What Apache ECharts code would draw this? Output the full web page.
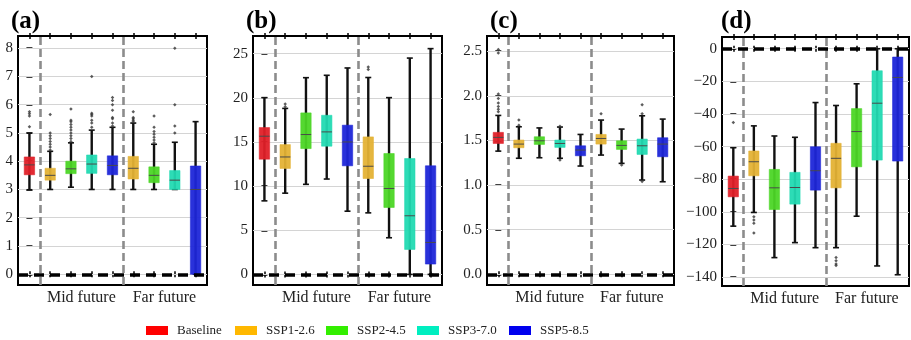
<!DOCTYPE html>
<html lang="en">
<head>
<meta charset="UTF-8">
<title>Boxplots by scenario</title>
<script src="https://cdn.jsdelivr.net/npm/echarts@6/dist/echarts.min.js"></script>
<style>html,body{margin:0;padding:0;background:#fff}</style>
</head>
<body>
<div id="main" style="width:911px;height:340px;"></div>
<script>
    // scenario names and box slots (0 = baseline, 1-4 mid future, 5-8 far future)
    var scenarios = ['Baseline', 'SSP1-2.6', 'SSP2-4.5', 'SSP3-7.0', 'SSP5-8.5'];
    var slotScenario = [0, 1, 2, 3, 4, 1, 2, 3, 4];
    var slotTicks = [0, 1, 2, 3, 4, 5, 6, 7, 8];
    var periodLabels = ['Mid future', 'Far future'];
    var periodCenters = [2.5, 6.5];
    var periodBreaks = [0.5, 4.5];
    var panelTitles = ['(a)', '(b)', '(c)', '(d)'];

    // [low, q1, median, q3, high] per slot
    var boxesA = [
        [2.99, 3.52, 3.87, 4.15, 4.99],
        [3.0, 3.33, 3.5, 3.75, 4.35],
        [3.08, 3.56, 3.73, 4.0, 4.65],
        [3.0, 3.57, 3.9, 4.22, 5.1],
        [3.0, 3.52, 3.85, 4.19, 5.2],
        [3.0, 3.37, 3.75, 4.17, 5.35],
        [3.0, 3.24, 3.5, 3.8, 4.6],
        [3.0, 3.0, 3.33, 3.67, 4.67],
        [0, 0, 3.0, 3.83, 5.4]
    ];
    var outliersA = [
        [0, 5.22], [0, 5.6], [0, 5.68], [0, 5.75],
        [1, 4.4], [1, 4.5], [1, 4.6], [1, 4.7], [1, 4.8], [1, 4.9], [1, 5.0], [1, 5.65],
        [2, 4.7], [2, 4.8], [2, 4.9], [2, 5.0], [2, 5.1], [2, 5.2], [2, 5.3], [2, 5.4], [2, 5.45], [2, 5.85],
        [3, 5.2], [3, 5.35], [3, 5.45], [3, 5.6], [3, 5.65], [3, 5.7], [3, 7.0],
        [4, 5.25], [4, 5.35], [4, 5.5], [4, 5.55], [4, 5.8], [4, 6.0], [4, 6.15], [4, 6.25],
        [5, 5.4], [5, 5.45], [5, 5.5], [5, 5.55], [5, 5.75],
        [6, 4.65], [6, 4.75], [6, 4.85], [6, 4.95], [6, 5.05], [6, 5.2], [6, 5.6],
        [7, 5.0], [7, 5.25], [7, 6.0], [7, 8.0]
    ];
    var boxesB = [
        [8.33, 13.05, 15.65, 16.63, 20.02],
        [9.2, 12.0, 13.3, 14.7, 18.8],
        [10.2, 14.25, 15.84, 18.29, 22.28],
        [10.8, 14.52, 16.14, 18.02, 22.55],
        [7.16, 12.3, 15.0, 16.9, 23.38],
        [6.97, 10.86, 12.25, 15.57, 22.3],
        [4.15, 7.58, 9.73, 13.69, 20.02],
        [0, 2.83, 6.64, 13.12, 24.5],
        [0, 1.17, 3.62, 12.3, 25.57]
    ];
    var outliersB = [
        [1, 19.0], [1, 19.3],
        [5, 23.2], [5, 23.5]
    ];
    var boxesC = [
        [1.38, 1.466, 1.534, 1.59, 1.78],
        [1.30, 1.418, 1.459, 1.504, 1.653],
        [1.306, 1.455, 1.496, 1.541, 1.64],
        [1.30, 1.422, 1.466, 1.504, 1.65],
        [1.213, 1.328, 1.392, 1.44, 1.567],
        [1.336, 1.459, 1.522, 1.567, 1.728],
        [1.243, 1.399, 1.444, 1.496, 1.627],
        [1.056, 1.343, 1.44, 1.515, 1.776],
        [1.037, 1.317, 1.459, 1.53, 1.739]
    ];
    var outliersC = [
        [0, 1.82], [0, 1.85], [0, 1.88], [0, 1.92], [0, 1.97], [0, 2.02], [0, 2.48], [0, 2.52],
        [1, 1.67], [1, 1.73],
        [3, 1.66], [3, 1.28],
        [5, 1.8],
        [6, 1.225],
        [7, 1.8], [7, 1.9], [7, 1.04]
    ];
    var boxesD = [
        [-108.8, -90.8, -85.7, -78.1, -60.7],
        [-100.4, -77.9, -69.3, -62.7, -47.3],
        [-128.1, -98.6, -85.3, -74, -53.5],
        [-118.9, -95.3, -85.1, -75.8, -54.3],
        [-122, -86.7, -74.8, -60.1, -33],
        [-122, -85.3, -67.2, -58, -34.8],
        [-102.7, -72.4, -50.8, -36.7, -21.5],
        [-133.2, -68.3, -33.4, -13.5, 0],
        [-138.6, -68.9, -17.6, -5.1, 0]
    ];
    var outliersD = [
        [0, -45.3],
        [1, -103], [1, -105], [1, -107], [1, -113],
        [5, -128], [5, -130], [5, -132], [5, -133]
    ];

    var yTicksA = [0, 1, 2, 3, 4, 5, 6, 7, 8];
    var yTicksB = [0, 5, 10, 15, 20, 25];
    var yTicksC = [0, 0.5, 1.0, 1.5, 2.0, 2.5];
    var yTicksD = [-140, -120, -100, -80, -60, -40, -20, 0];

    var boxColors = ['#e02028', '#e4b235', '#4cd626', '#22dab2', '#1e26d8'];
    var legendColors = ['#ff0000', '#ffb800', '#33ee00', '#00eec0', '#0000ee'];

    var serif = "'Liberation Serif', 'Times New Roman', serif";

    var panels = [
        {boxes: boxesA, outliers: outliersA, ticks: yTicksA, ymin: -0.38, ymax: 8.43, dec: 0,
            grid: {left: 18, top: 36, width: 189, height: 249}, titleLeft: 6},
        {boxes: boxesB, outliers: outliersB, ticks: yTicksB, ymin: -1.2, ymax: 27, dec: 0,
            grid: {left: 253, top: 36, width: 189, height: 249}, titleLeft: 241},
        {boxes: boxesC, outliers: outliersC, ticks: yTicksC, ymin: -0.12, ymax: 2.67, dec: 1,
            grid: {left: 487, top: 36, width: 187, height: 249}, titleLeft: 485},
        {boxes: boxesD, outliers: outliersD, ticks: yTicksD, ymin: -145.5, ymax: 7.2, dec: 0,
            grid: {left: 722, top: 37, width: 187, height: 249}, titleLeft: 716}
    ];

    function renderBox(params, api) {
        var x = api.value(0);
        var lo = api.coord([x, api.value(1)]);
        var q1 = api.coord([x, api.value(2)]);
        var md = api.coord([x, api.value(3)]);
        var q3 = api.coord([x, api.value(4)]);
        var hi = api.coord([x, api.value(5)]);
        var w = api.size([1, 0])[0] * 0.5;
        var cx = lo[0];
        var line = function (x1, y1, x2, y2, color, width) {
            return {type: 'line', shape: {x1: x1, y1: y1, x2: x2, y2: y2},
                style: {stroke: color, lineWidth: width}};
        };
        return {
            type: 'group',
            children: [
                line(cx, lo[1], cx, hi[1], '#111', 2.4),
                line(cx - 3, lo[1], cx + 3, lo[1], '#111', 1.6),
                line(cx - 3, hi[1], cx + 3, hi[1], '#111', 1.6),
                {type: 'rect', shape: {x: cx - w / 2, y: q3[1], width: w, height: q1[1] - q3[1]},
                    style: {fill: api.visual('color'), stroke: api.visual('color'), lineWidth: 0.6, opacity: 0.95}},
                line(cx - w / 2, md[1], cx + w / 2, md[1], '#4a4a4a', 1)
            ]
        };
    }

    var grids = [], xAxes = [], yAxes = [], series = [], titles = [];

    panels.forEach(function (p, i) {
        grids.push(Object.assign({show: true, borderColor: '#000', borderWidth: 2, backgroundColor: 'transparent'}, p.grid));
        titles.push({
            text: panelTitles[i], left: p.titleLeft, top: 4,
            textStyle: {fontFamily: serif, fontSize: 25, fontWeight: 'bold', color: '#000'}
        });

        var xBase = {
            type: 'value', gridIndex: i, min: -0.55, max: 8.55,
            axisLine: {show: false}, splitLine: {show: false}
        };
        // bottom axis with labels, ticks outside
        xAxes.push(Object.assign({}, xBase, {
            position: 'bottom',
            axisTick: {show: true, inside: false, length: 3, customValues: slotTicks, lineStyle: {color: '#000', width: 1.5}},
            axisLabel: {
                show: true, customValues: periodCenters, margin: 5,
                fontFamily: serif, fontSize: 16, color: '#222',
                formatter: function (v) { return v < periodBreaks[1] ? periodLabels[0] : periodLabels[1]; }
            }
        }));
        // remaining tick copies so ticks cross the frame
        [['bottom', true], ['top', false], ['top', true]].forEach(function (c) {
            xAxes.push(Object.assign({}, xBase, {
                position: c[0],
                axisTick: {show: true, inside: c[1], length: 3, customValues: slotTicks, lineStyle: {color: '#000', width: 1.5}},
                axisLabel: {show: false}
            }));
        });

        var yBase = {
            type: 'value', gridIndex: i, min: p.ymin, max: p.ymax, position: 'left',
            axisLine: {show: false}, splitLine: {show: false}
        };
        yAxes.push(Object.assign({}, yBase, {
            axisTick: {show: true, inside: false, length: 3, customValues: p.ticks, lineStyle: {color: '#000', width: 1.5}},
            axisLabel: {
                show: true, customValues: p.ticks, margin: 5,
                fontFamily: serif, fontSize: 15, color: '#222',
                formatter: function (v) {
                    var s = v.toFixed(p.dec);
                    return s.replace('-', '\u2212');
                }
            }
        }));
        yAxes.push(Object.assign({}, yBase, {
            axisTick: {show: true, inside: true, length: 3, customValues: p.ticks, lineStyle: {color: '#000', width: 1.5}},
            axisLabel: {show: false}
        }));

        var xi = i * 4, yi = i * 2;

        scenarios.forEach(function (name, s) {
            var rows = [];
            p.boxes.forEach(function (b, slot) {
                if (slotScenario[slot] === s) rows.push([slot].concat(b));
            });
            var ser = {
                type: 'custom', name: name, xAxisIndex: xi, yAxisIndex: yi, z: 3,
                itemStyle: {color: boxColors[s]},
                renderItem: renderBox,
                encode: {x: 0, y: [1, 2, 3, 4, 5]},
                data: rows
            };
            if (s === 0) {
                // light horizontal grid lines behind the boxes
                ser.markLine = {
                    silent: true, symbol: 'none', z: 1, animation: false,
                    label: {show: false},
                    lineStyle: {color: '#d4d4d4', width: 1, type: 'solid'},
                    emphasis: {disabled: true},
                    data: p.ticks.map(function (t) { return {yAxis: t}; })
                };
            }
            series.push(ser);
        });

        series.push({
            type: 'scatter', xAxisIndex: xi, yAxisIndex: yi, z: 4, silent: true,
            symbol: 'diamond', symbolSize: 3.5,
            itemStyle: {color: '#333'},
            data: p.outliers,
            markLine: {
                silent: true, symbol: 'none', animation: false,
                label: {show: false},
                emphasis: {disabled: true},
                data: [
                    {xAxis: periodBreaks[0], lineStyle: {color: '#8c8c8c', width: 2.6, type: [8, 4]}},
                    {xAxis: periodBreaks[1], lineStyle: {color: '#8c8c8c', width: 2.6, type: [8, 4]}},
                    {yAxis: 0, lineStyle: {color: '#000', width: 3.5, type: [10, 6]}}
                ]
            }
        });
    });

    var legendLefts = [146, 235, 326, 417, 509];
    var legends = scenarios.map(function (name, s) {
        return {
            left: legendLefts[s], top: 324, padding: 0,
            icon: 'rect', itemWidth: 22, itemHeight: 9,
            selectedMode: false,
            textStyle: {fontFamily: serif, fontSize: 13, color: '#222', padding: [0, 0, 0, 4]},
            data: [{name: name, itemStyle: {color: legendColors[s]}}]
        };
    });

    var chart = echarts.init(document.getElementById('main'));
    chart.setOption({
        animation: false,
        backgroundColor: '#fff',
        title: titles,
        legend: legends,
        grid: grids,
        xAxis: xAxes,
        yAxis: yAxes,
        series: series
    });
</script>
</body>
</html>
